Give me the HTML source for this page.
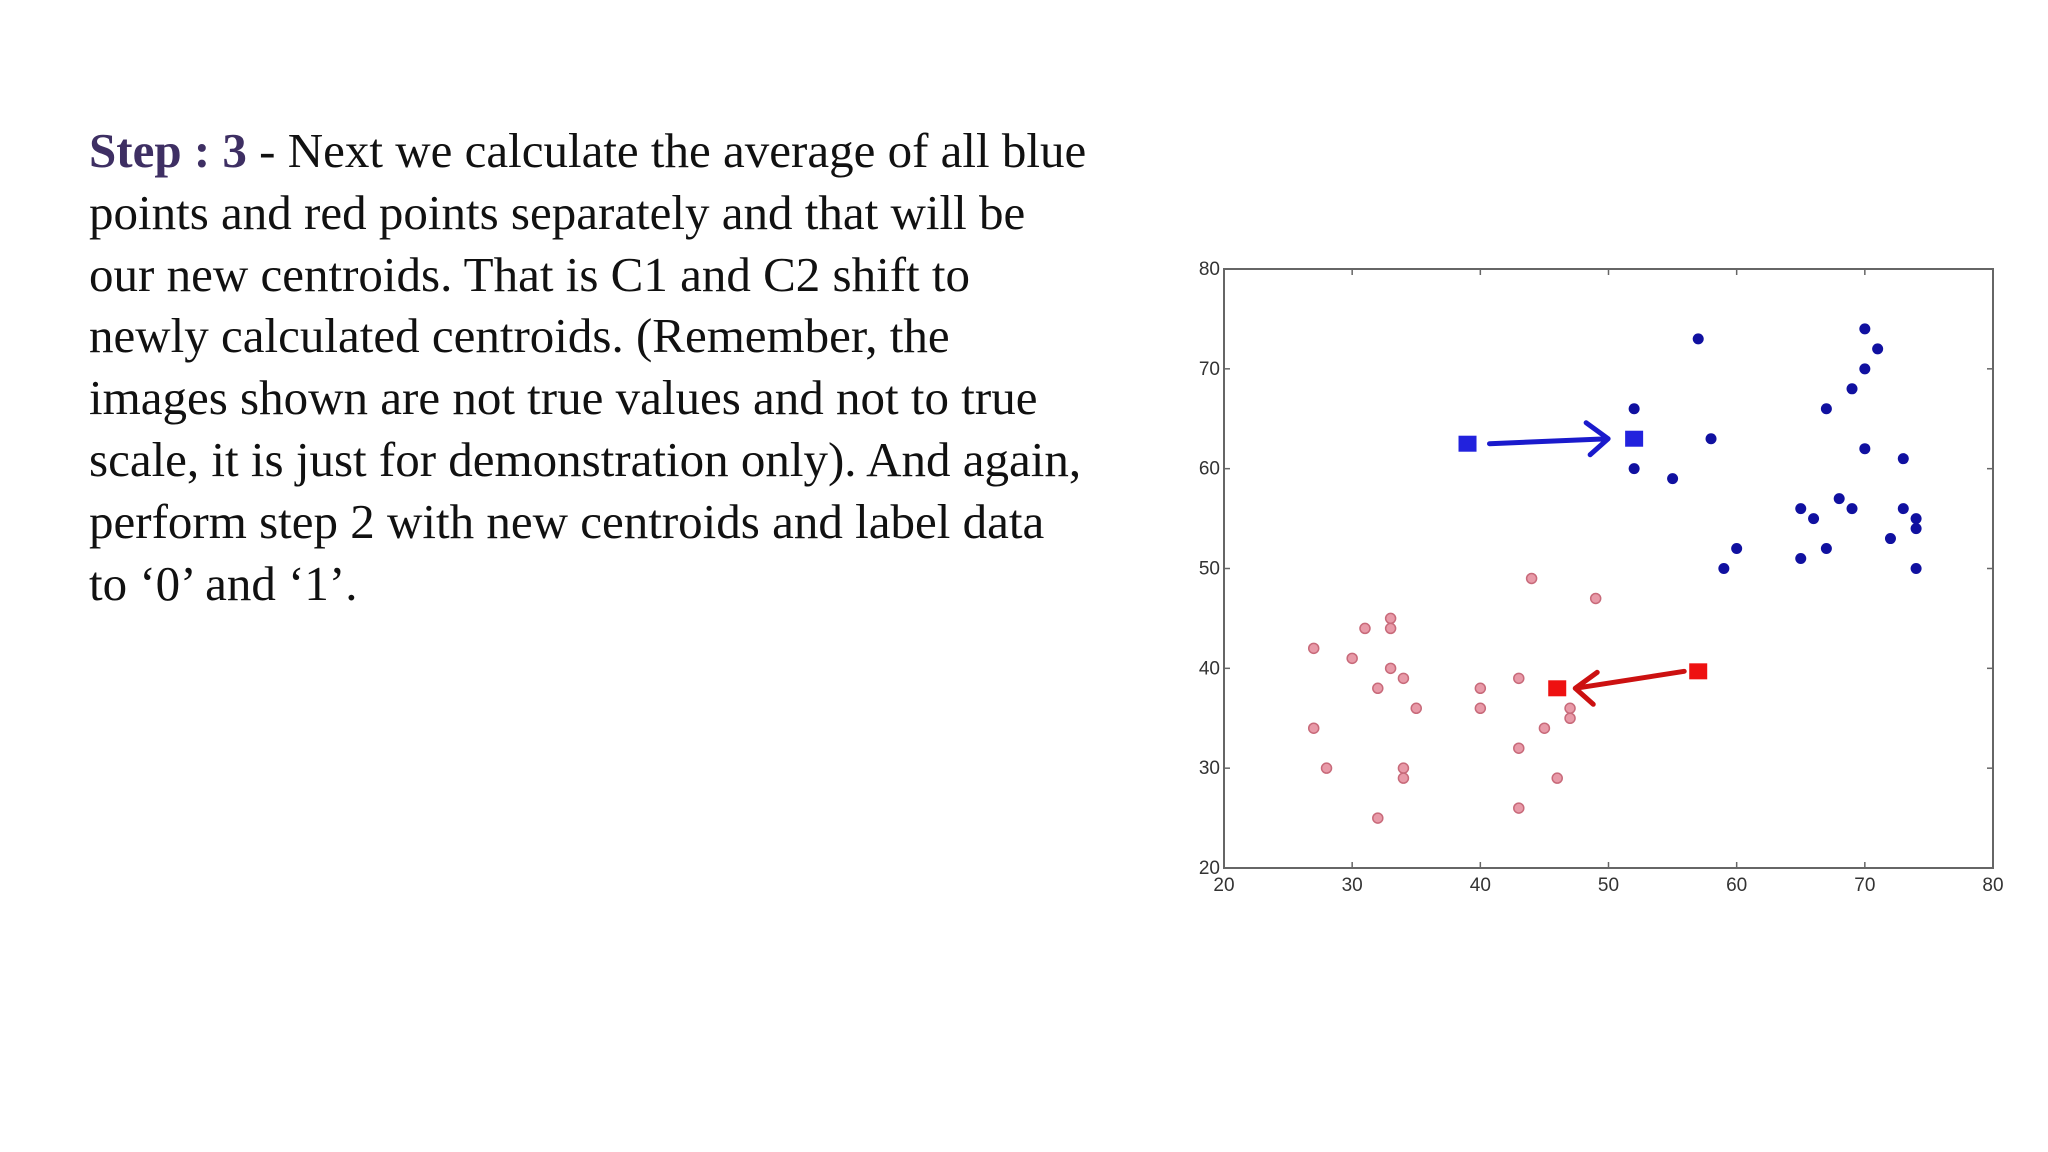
<!DOCTYPE html>
<html><head><meta charset="utf-8"><style>
body{margin:0;width:2048px;height:1152px;background:#fff;overflow:hidden;position:relative;font-family:"Liberation Serif",serif}
.txt{position:absolute;left:89px;top:120px;font-size:49px;line-height:61.8px;color:#111;white-space:nowrap}
.txt b{color:#3e2f63;font-weight:bold}
svg{position:absolute;left:0;top:0}
</style></head><body>
<div class="txt">
<div><b>Step : 3</b> - Next we calculate the average of all blue</div>
<div>points and red points separately and that will be</div>
<div>our new centroids. That is C1 and C2 shift to</div>
<div>newly calculated centroids. (Remember, the</div>
<div>images shown are not true values and not to true</div>
<div>scale, it is just for demonstration only). And again,</div>
<div>perform step 2 with new centroids and label data</div>
<div>to ‘0’ and ‘1’.</div>
</div>
<svg id="chart" width="2048" height="1152"></svg>
<script>
const ticks=[20,30,40,50,60,70,80];
const blueX=[57,52,52,58,55,70,71,70,69,67,70,73,68,69,65,66,73,74,74,72,67,65,60,59,74];
const blueY=[73,66,60,63,59,74,72,70,68,66,62,61,57,56,56,55,56,55,54,53,52,51,52,50,50];
const redX=[44,49,33,33,31,27,30,33,34,32,40,43,35,40,47,47,45,27,43,28,34,34,46,43,32];
const redY=[49,47,45,44,44,42,41,40,39,38,38,39,36,36,36,35,34,34,32,30,30,29,29,26,25];
const centroidOld=[[39,62.5],[57,39.7]];
const centroidNew=[[52,63],[46,38]];
const L=1224,R=1993,T=269,B=868;
const sx=v=>L+(v-20)/60*(R-L), sy=v=>B-(v-20)/60*(B-T);
const svg=document.getElementById('chart');const NS='http://www.w3.org/2000/svg';
function mk(t,a){const e=document.createElementNS(NS,t);for(const k in a)e.setAttribute(k,a[k]);svg.appendChild(e);return e;}
let f=mk('rect',{x:L,y:T,width:R-L,height:B-T,fill:'none',stroke:'#666','stroke-width':2});


ticks.forEach(t=>{
 mk('line',{x1:sx(t),x2:sx(t),y1:B,y2:B-6,stroke:'#666','stroke-width':1.5});
 mk('line',{x1:sx(t),x2:sx(t),y1:T,y2:T+6,stroke:'#666','stroke-width':1.5});
 mk('line',{x1:L,x2:L+6,y1:sy(t),y2:sy(t),stroke:'#666','stroke-width':1.5});
 mk('line',{x1:R,x2:R-6,y1:sy(t),y2:sy(t),stroke:'#666','stroke-width':1.5});
 let a=mk('text',{x:sx(t),y:B+23,'text-anchor':'middle','font-size':19,fill:'#333','font-family':'Liberation Sans, sans-serif'});a.textContent=t;
 
 
 let b=mk('text',{x:L-4,y:sy(t)+6,'text-anchor':'end','font-size':19,fill:'#333','font-family':'Liberation Sans, sans-serif'});b.textContent=t;
 
 
});
blueX.forEach((x,i)=>{let c=mk('circle',{cx:sx(x),cy:sy(blueY[i]),r:5.5,fill:'#1010a0'});
 
 });
redX.forEach((x,i)=>{let c=mk('circle',{cx:sx(x),cy:sy(redY[i]),r:5,fill:'#e89aa8',stroke:'#c86a7a','stroke-width':1.5});
 
 });
const cols=['#2222dd','#ee1111'];
[centroidOld,centroidNew].forEach((arr,k)=>arr.forEach((p,i)=>{let r=mk('rect',{x:sx(p[0])-9,y:sy(p[1])-8,width:18,height:16,fill:cols[i]});
 
 }));
[0,1].forEach(i=>{
 const x1=sx(centroidOld[i][0])+(i?-14:22),x2=sx(centroidNew[i][0])+(i?18:-26),y1=sy(centroidOld[i][1]),y2=sy(centroidNew[i][1]);
 const c=i?'#cc1111':'#1a1acc';const d=i?-1:1;
 let g=mk('path',{d:`M${x1},${y1} L${x2},${y2} M${x2-d*22},${y2-16} L${x2},${y2} L${x2-d*18},${y2+16}`,fill:'none',stroke:c,'stroke-width':5,'stroke-linecap':'round','stroke-linejoin':'round'});
 
 
});
</script>
</body></html>
